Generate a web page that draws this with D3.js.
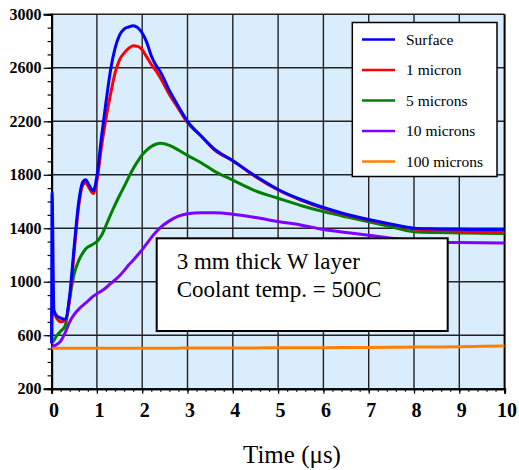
<!DOCTYPE html>
<html>
<head>
<meta charset="utf-8">
<script src="https://cdn.jsdelivr.net/npm/d3@7"></script>
<style>
  body { margin: 0; background: #fff; }
</style>
</head>
<body>
<script>
// time points (microseconds) shared by all curves
var times = [0, 0.01, 0.05, 0.1, 0.2, 0.3, 0.4, 0.5, 0.6, 0.68, 0.75, 0.83, 0.92, 1.0,
  1.1, 1.2, 1.3, 1.4, 1.5, 1.6, 1.7, 1.8, 1.9, 2.0, 2.1, 2.2, 2.3, 2.4, 2.6, 2.8,
  3.0, 3.3, 3.6, 4.0, 4.5, 5.0, 5.5, 6.0, 6.5, 7.0, 7.5, 8.0, 8.5, 9.0, 9.5, 10];

var surface = [540, 1670, 790, 750, 728, 720, 900, 1270, 1600, 1740, 1762, 1720, 1680, 1790,
  2080, 2340, 2580, 2745, 2845, 2890, 2905, 2915, 2900, 2860, 2790, 2690, 2620, 2570, 2430, 2310,
  2200, 2090, 1990, 1905, 1790, 1690, 1615, 1555, 1505, 1465, 1430, 1400, 1395, 1392, 1391, 1390];

var micron1 = [540, 780, 770, 735, 700, 712, 870, 1230, 1570, 1715, 1740, 1700, 1660, 1755,
  2005, 2220, 2400, 2560, 2660, 2710, 2745, 2765, 2760, 2735, 2680, 2625, 2580, 2525, 2400, 2295,
  2190, 2090, 1985, 1905, 1785, 1686, 1610, 1549, 1500, 1462, 1428, 1395, 1385, 1378, 1374, 1372];

var micron5 = [540, 545, 560, 590, 630, 670, 880, 1060, 1160, 1210, 1245, 1265, 1282, 1300,
  1345, 1420, 1500, 1575, 1645, 1710, 1780, 1845, 1900, 1950, 1985, 2012, 2028, 2035, 2020, 1985,
  1945, 1890, 1825, 1760, 1680, 1624, 1570, 1524, 1485, 1449, 1410, 1374, 1368, 1365, 1362, 1360];

var micron10 = [520, 520, 522, 528, 555, 620, 700, 755, 795, 820, 840, 865, 892, 910,
  930, 955, 985, 1013, 1045, 1083, 1125, 1160, 1200, 1240, 1285, 1330, 1370, 1405, 1455, 1490,
  1508, 1515, 1515, 1505, 1480, 1450, 1425, 1390, 1368, 1348, 1325, 1310, 1298, 1293, 1291, 1290];

var micron100 = [503, 503, 503, 503, 503, 503, 503, 503, 503, 503, 503, 503, 503, 503,
  503, 503, 503, 503, 503, 503, 503, 503, 503, 503, 503, 503, 503, 503, 503, 503,
  504, 504, 504, 505, 505, 506, 506, 507, 508, 509, 510, 511, 512, 514, 517, 520];

var seriesNames = ["Surface", "1 micron", "5 microns", "10 microns", "100 microns"];
var seriesColors = ["#0000ff", "#ff0000", "#008000", "#8000ff", "#ff8000"];
var seriesValues = [surface, micron1, micron5, micron10, micron100];

var xTicks = [0, 1, 2, 3, 4, 5, 6, 7, 8, 9, 10];
var yTicks = [200, 600, 1000, 1400, 1800, 2200, 2600, 3000];
var noteLines = ["3 mm thick W layer", "Coolant temp. = 500C"];

var width = 519, height = 470;
var plotLeft = 51.6, plotRight = 504.6, plotTop = 14.3, plotBottom = 388.7;
var serif = "Liberation Serif";

var svg = d3.select("body")
  .append("svg")
    .attr("width", width)
    .attr("height", height);

var x = d3.scaleLinear().domain([0, 10]).range([plotLeft, plotRight]);
var y = d3.scaleLinear().domain([200, 3000]).range([plotBottom, plotTop]);

// plot background
svg.append("rect")
  .attr("x", plotLeft).attr("y", plotTop)
  .attr("width", plotRight - plotLeft).attr("height", plotBottom - plotTop)
  .attr("fill", "#d9edfd");

// grid
svg.append("g")
  .selectAll("line")
  .data(yTicks.slice(1))
  .enter()
  .append("line")
    .attr("x1", plotLeft).attr("x2", plotRight)
    .attr("y1", function(d) { return y(d); })
    .attr("y2", function(d) { return y(d); })
    .attr("stroke", "#222")
    .attr("stroke-width", 1.4);
svg.append("g")
  .selectAll("line")
  .data(xTicks.slice(1, 10))
  .enter()
  .append("line")
    .attr("y1", plotTop).attr("y2", plotBottom)
    .attr("x1", function(d) { return x(d); })
    .attr("x2", function(d) { return x(d); })
    .attr("stroke", "#222")
    .attr("stroke-width", 1.4);

// right border
svg.append("line")
  .attr("x1", x(10)).attr("x2", x(10))
  .attr("y1", plotTop).attr("y2", plotBottom)
  .attr("stroke", "#000")
  .attr("stroke-width", 2);

// axes
var minorY = d3.range(200, 3001, 100);
var minorX = d3.range(0, 10.01, 0.2);

var yMinor = svg.append("g")
  .attr("transform", "translate(" + plotLeft + ",0)")
  .call(d3.axisLeft(y).tickValues(minorY).tickSize(4).tickFormat(""));
var yAxis = svg.append("g")
  .attr("transform", "translate(" + plotLeft + ",0)")
  .call(d3.axisLeft(y).tickValues(yTicks).tickSize(8).tickPadding(2).tickFormat(d3.format("d")));

var xMinor = svg.append("g")
  .attr("transform", "translate(0," + plotBottom + ")")
  .call(d3.axisBottom(x).tickValues(minorX).tickSize(3).tickFormat(""));
var xAxis = svg.append("g")
  .attr("transform", "translate(0," + plotBottom + ")")
  .call(d3.axisBottom(x).tickValues(xTicks).tickSize(5).tickPadding(9).tickFormat(d3.format("d")));

[yMinor, yAxis, xMinor, xAxis].forEach(function(g) {
  g.attr("font-family", serif);
  g.select(".domain").attr("stroke", "#000").attr("stroke-width", 2);
  g.selectAll(".tick line").attr("stroke", "#000").attr("stroke-width", 1.2);
});
yAxis.selectAll("text")
  .attr("fill", "#000")
  .attr("font-family", serif)
  .attr("font-weight", "bold")
  .attr("font-size", 16);
xAxis.selectAll("text")
  .attr("fill", "#000")
  .attr("dx", 2)
  .attr("font-family", serif)
  .attr("font-weight", "bold")
  .attr("font-size", 20);

// curves
svg.append("clipPath").attr("id", "plot")
  .append("rect")
    .attr("x", plotLeft - 3).attr("y", plotTop)
    .attr("width", plotRight - plotLeft + 3).attr("height", plotBottom - plotTop);

var line = d3.line()
  .x(function(d) { return x(d[0]); })
  .y(function(d) { return y(d[1]); })
  .curve(d3.curveMonotoneX);

svg.append("g")
  .attr("clip-path", "url(#plot)")
  .selectAll("path")
  .data(seriesValues.slice().reverse())
  .enter()
  .append("path")
    .attr("d", function(vals) { return line(times.map(function(t, i) { return [t, vals[i]]; })); })
    .attr("fill", "none")
    .attr("stroke", function(d, i) { return seriesColors[4 - i]; })
    .attr("stroke-width", 3)
    .attr("stroke-linejoin", "round");

svg.append("text")
  .attr("x", 292)
  .attr("y", 463)
  .attr("text-anchor", "middle")
  .attr("font-family", serif)
  .attr("font-size", 25)
  .text("Time (\u03bcs)");

// legend
var legend = svg.append("g");
legend.append("rect")
  .attr("x", 352.3).attr("y", 22.5)
  .attr("width", 144.7).attr("height", 154)
  .attr("fill", "#fff")
  .attr("stroke", "#000")
  .attr("stroke-width", 1.5);
var items = legend.selectAll("g.item")
  .data(seriesNames)
  .enter()
  .append("g")
    .attr("transform", function(d, i) { return "translate(0," + (39.5 + i * 30.5) + ")"; });
items.append("line")
  .attr("x1", 362).attr("x2", 395)
  .attr("stroke", function(d, i) { return seriesColors[i]; })
  .attr("stroke-width", 2.5);
items.append("text")
  .attr("x", 406)
  .attr("y", 5)
  .attr("font-family", serif)
  .attr("font-size", 15.5)
  .text(function(d) { return d; });

// note box
svg.append("rect")
  .attr("x", 156.7).attr("y", 238.3)
  .attr("width", 291).attr("height", 92.7)
  .attr("fill", "#fff")
  .attr("stroke", "#000")
  .attr("stroke-width", 2);
svg.append("g")
  .selectAll("text")
  .data(noteLines)
  .enter()
  .append("text")
    .attr("x", 176.7)
    .attr("y", function(d, i) { return 269.3 + i * 27.4; })
    .attr("font-family", serif)
    .attr("font-size", 23)
    .text(function(d) { return d; });
</script>
</body>
</html>
